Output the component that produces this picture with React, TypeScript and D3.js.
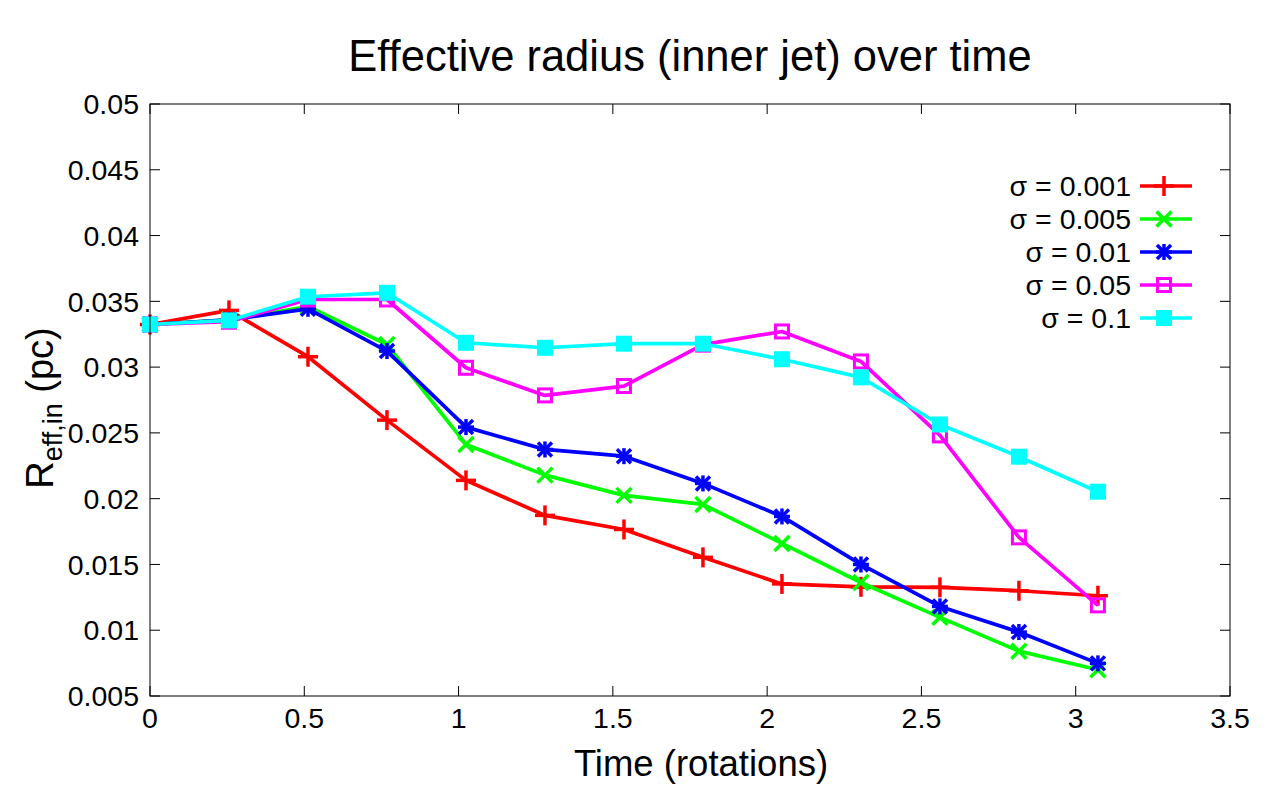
import React from "react";
import * as d3 from "d3";

const times = [0, 0.256, 0.512, 0.768, 1.024, 1.28, 1.536, 1.792, 2.048, 2.304, 2.56, 2.816, 3.072];

const sigma0001 = [0.03324, 0.03431, 0.03079, 0.02597, 0.02139, 0.01873, 0.01766, 0.01554, 0.01352, 0.01330, 0.01326, 0.01300, 0.01262];
const sigma0005 = [0.03324, 0.03360, 0.03461, 0.03172, 0.02412, 0.02179, 0.02025, 0.01956, 0.01660, 0.01363, 0.01098, 0.00841, 0.00700];
const sigma001 = [0.03324, 0.03360, 0.03443, 0.03122, 0.02544, 0.02374, 0.02323, 0.02116, 0.01865, 0.01500, 0.01181, 0.00986, 0.00748];
const sigma005 = [0.03324, 0.03345, 0.03514, 0.03514, 0.02995, 0.02785, 0.02856, 0.03171, 0.03271, 0.03043, 0.02481, 0.01706, 0.01189];
const sigma01 = [0.03324, 0.03355, 0.03535, 0.03565, 0.03185, 0.03147, 0.03178, 0.03178, 0.03060, 0.02922, 0.02564, 0.02319, 0.02053];

const seriesLabels = ["σ = 0.001", "σ = 0.005", "σ = 0.01", "σ = 0.05", "σ = 0.1"];
const seriesColors = ["#ff0000", "#00ff00", "#0000ff", "#ff00ff", "#00ffff"];
const seriesMarkers = ["plus", "cross", "star", "openSquare", "filledSquare"];
const seriesValues = [sigma0001, sigma0005, sigma001, sigma005, sigma01];

const xTicks = [0, 0.5, 1, 1.5, 2, 2.5, 3, 3.5];
const yTicks = [0.005, 0.01, 0.015, 0.02, 0.025, 0.03, 0.035, 0.04, 0.045, 0.05];

const W = 1280;
const H = 800;
const left = 150;
const right = 1230;
const top = 104;
const bottom = 696;

const FONT = "'Liberation Sans', Arial, Helvetica, sans-serif";

function Marker({ type, x, y, color }: { type: string; x: number; y: number; color: string }) {
  const s = 10;
  const sw = 3.5;
  if (type === "plus") {
    return (
      <g stroke={color} strokeWidth={sw}>
        <line x1={x - s} y1={y} x2={x + s} y2={y} />
        <line x1={x} y1={y - s} x2={x} y2={y + s} />
      </g>
    );
  }
  if (type === "cross") {
    const c = 7.5;
    return (
      <g stroke={color} strokeWidth={sw}>
        <line x1={x - c} y1={y - c} x2={x + c} y2={y + c} />
        <line x1={x - c} y1={y + c} x2={x + c} y2={y - c} />
      </g>
    );
  }
  if (type === "star") {
    const c = 7;
    return (
      <g stroke={color} strokeWidth={sw}>
        <line x1={x - c} y1={y - c} x2={x + c} y2={y + c} />
        <line x1={x - c} y1={y + c} x2={x + c} y2={y - c} />
        <line x1={x - c - 1} y1={y} x2={x + c + 1} y2={y} />
        <line x1={x} y1={y - c - 1} x2={x} y2={y + c + 1} />
      </g>
    );
  }
  if (type === "openSquare") {
    const h = 6.5;
    return <rect x={x - h} y={y - h} width={2 * h} height={2 * h} fill="none" stroke={color} strokeWidth={3} />;
  }
  const h = 8;
  return <rect x={x - h} y={y - h} width={2 * h} height={2 * h} fill={color} stroke="none" />;
}

export default function App() {
  const xScale = d3.scaleLinear().domain([0, 3.5]).range([left, right]);
  const yScale = d3.scaleLinear().domain([0.005, 0.05]).range([bottom, top]);
  const line = d3
    .line<[number, number]>()
    .x((d) => xScale(d[0]))
    .y((d) => yScale(d[1]));

  const tickLen = 10;
  const legendTop = 186;
  const legendStep = 33;

  return (
    <svg
      width={W}
      height={H}
      style={{ position: "absolute", left: 0, top: 0, background: "#fff" }}
      fontFamily={FONT}
    >
      <rect x={0} y={0} width={W} height={H} fill="#fff" />
      <text x={690} y={71} fontSize={43.5} textAnchor="middle" fill="#000">
        Effective radius (inner jet) over time
      </text>

      {/* ticks */}
      {yTicks.map((t) => (
        <g key={"y" + t}>
          <line x1={left} x2={left + tickLen} y1={yScale(t)} y2={yScale(t)} stroke="#000" strokeWidth={1} />
          <line x1={right} x2={right - tickLen} y1={yScale(t)} y2={yScale(t)} stroke="#000" strokeWidth={1} />
          <text x={139} y={yScale(t)} dy="0.36em" fontSize={28.5} textAnchor="end" fill="#000">
            {String(t)}
          </text>
        </g>
      ))}
      {xTicks.map((t) => (
        <g key={"x" + t}>
          <line x1={xScale(t)} x2={xScale(t)} y1={bottom} y2={bottom - tickLen} stroke="#000" strokeWidth={1} />
          <line x1={xScale(t)} x2={xScale(t)} y1={top} y2={top + tickLen} stroke="#000" strokeWidth={1} />
          <text x={xScale(t)} y={728} fontSize={28.5} textAnchor="middle" fill="#000">
            {String(t)}
          </text>
        </g>
      ))}

      {/* series */}
      {seriesValues.map((vals, i) => {
        const pts: [number, number][] = vals.map((v, j) => [times[j], v]);
        return (
          <g key={"s" + i}>
            <path d={line(pts) || ""} fill="none" stroke={seriesColors[i]} strokeWidth={3.7} strokeLinejoin="round" />
            {pts.map((p, j) => (
              <Marker key={j} type={seriesMarkers[i]} x={xScale(p[0])} y={yScale(p[1])} color={seriesColors[i]} />
            ))}
          </g>
        );
      })}

      {/* border */}
      <rect x={left} y={top} width={right - left} height={bottom - top} fill="none" stroke="#000" strokeWidth={1} />

      {/* legend */}
      {seriesLabels.map((lab, i) => {
        const y = legendTop + i * legendStep;
        return (
          <g key={"l" + i}>
            <text x={1131} y={y} dy="0.36em" fontSize={28.5} textAnchor="end" fill="#000">
              {lab}
            </text>
            <line x1={1140} x2={1192} y1={y} y2={y} stroke={seriesColors[i]} strokeWidth={3.7} />
            <Marker type={seriesMarkers[i]} x={1164} y={y} color={seriesColors[i]} />
          </g>
        );
      })}

      {/* axis labels */}
      <text x={701} y={776} fontSize={36.5} textAnchor="middle" fill="#000">
        Time (rotations)
      </text>
      <text transform="translate(53,408) rotate(-90)" fontSize={38} textAnchor="middle" fill="#000">
        R
        <tspan fontSize={27} dy={9}>
          eff,in
        </tspan>
        <tspan dy={-9}> (pc)</tspan>
      </text>
    </svg>
  );
}
